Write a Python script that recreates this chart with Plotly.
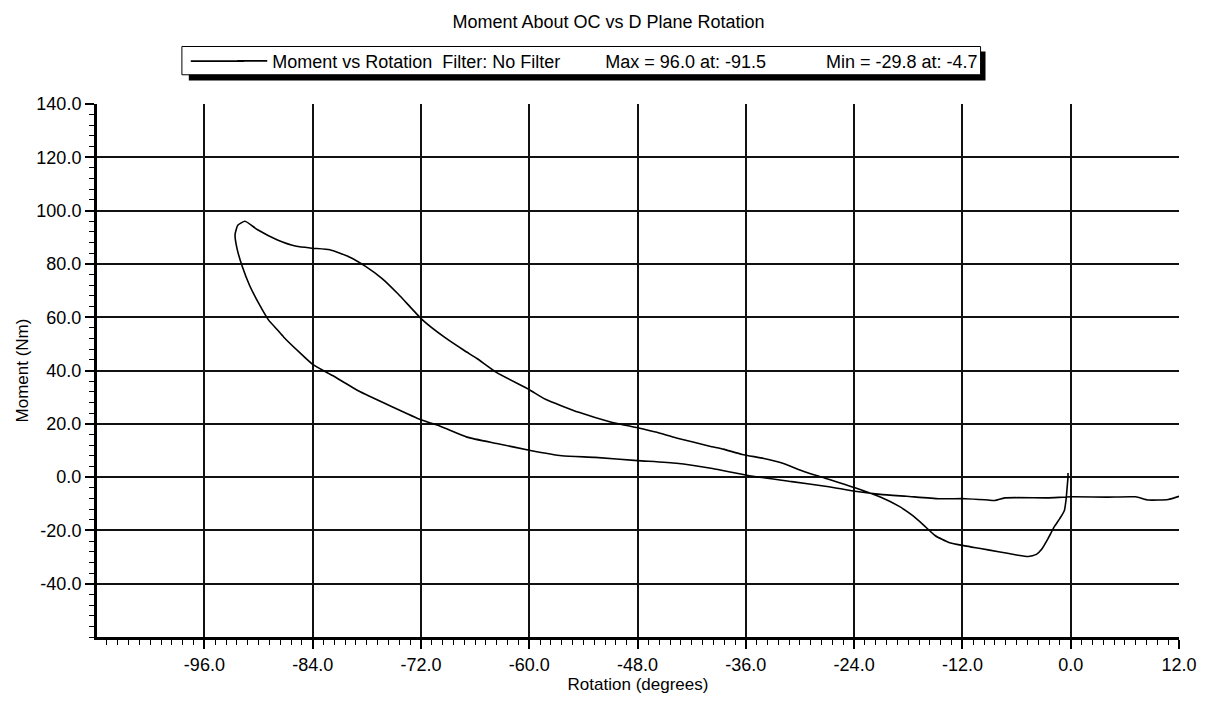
import plotly.graph_objects as go

# ---- data ----
rotation = [
    -0.3, -0.3, -0.4, -0.5, -0.7, -1.2, -1.8, -2.5, -3.2, -3.8, -4.7,
    -6.0, -8.0, -10.0, -11.7, -13.5, -15.0, -16.3, -17.5, -19.0, -21.1,
    -23.9, -27.3, -29.5, -32.0, -34.0, -36.4, -38.5, -40.0, -43.7, -46.0,
    -48.0, -50.9, -54.5, -58.2, -60.0, -63.6, -65.8, -67.2, -69.4, -71.9,
    -73.1, -74.5, -76.3, -78.1, -80.0, -82.1, -84.0, -85.8, -87.9, -90.1,
    -91.5, -92.3, -92.6,
    -92.4, -91.8, -91.0, -89.9, -88.9, -88.0, -87.2, -85.4, -84.0, -81.8, -78.9,
    -75.2, -72.0, -69.8, -66.9, -63.6, -60.0, -56.4, -52.7, -48.0, -43.7,
    -39.7, -35.9, -30.9, -27.0, -23.9, -21.1, -18.2, -14.6, -11.7, -9.5,
    -8.4, -7.3, -2.6, 0.0, 4.0, 7.2, 8.6, 10.8, 12.0,
]
moment = [
    1.5, 0.0, -4.0, -8.0, -12.5, -15.5, -18.5, -23.0, -27.0, -29.0, -29.8,
    -29.2, -28.0, -26.8, -25.8, -24.5, -22.0, -18.0, -14.5, -11.0, -7.5,
    -4.0, -0.3, 2.0, 5.3, 7.0, 8.5, 10.5, 11.6, 14.7, 16.9,
    18.5, 20.6, 24.3, 29.2, 32.8, 39.2, 44.5, 47.5, 52.5, 59.2,
    63.5, 68.6, 74.5, 79.0, 82.7, 85.3, 85.9, 86.6, 89.0, 92.8,
    96.0, 94.5, 91.0,
    86.0, 79.0, 72.0, 64.7, 59.0, 55.6, 52.5, 46.6, 42.3, 38.1, 32.3,
    26.4, 21.5, 19.0, 15.0, 12.6, 10.1, 8.0, 7.4, 6.2, 5.2,
    3.2, 0.7, -1.7, -3.5, -5.3, -6.5, -7.2, -8.1, -8.1, -8.5,
    -8.8, -7.8, -7.8, -7.4, -7.5, -7.4, -8.6, -8.4, -7.2,
]
x_ticks = [-96, -84, -72, -60, -48, -36, -24, -12, 0, 12]
y_ticks = [140, 120, 100, 80, 60, 40, 20, 0, -20, -40]
x_ticklabels = [f"{v:.1f}" for v in x_ticks]
y_ticklabels = [f"{v:.1f}" for v in y_ticks]

series_name = "Moment vs Rotation"
NB = "\u00a0"
legend_text = (series_name + NB * 2 + "Filter: No Filter" + NB * 9
               + "Max = 96.0 at: -91.5" + NB * 12 + "Min = -29.8 at: -4.7")

FONT = "Arial, Liberation Sans, Helvetica, sans-serif"
# page body has an 8px margin, so the figure is 16px smaller than the window
W, H = 1201, 690
L, R, T, B = 87, 18, 96, 47
PW, PH = W - L - R, H - T - B


def px_x(px):
    return (px - L) / PW


def px_y(py):
    return (H - B - py) / PH


fig = go.Figure()
fig.add_trace(go.Scatter(
    x=rotation, y=moment, mode="lines", name=legend_text,
    line=dict(color="black", width=1.6, shape="spline", smoothing=0.5),
    showlegend=True,
))

BOX_L, BOX_R, BOX_T, BOX_B = 173, 982, 37, 66
shapes = [
    # legend shadow
    dict(type="rect", xref="paper", yref="paper",
         x0=px_x(BOX_L + 7), x1=px_x(BOX_R + 5), y0=px_y(BOX_B + 6), y1=px_y(BOX_T + 5),
         fillcolor="black", line=dict(width=0), layer="above"),
    # legend box
    dict(type="rect", xref="paper", yref="paper",
         x0=px_x(BOX_L), x1=px_x(BOX_R), y0=px_y(BOX_B), y1=px_y(BOX_T),
         fillcolor="white", line=dict(color="black", width=1), layer="above"),
    # long legend key
    dict(type="line", xref="paper", yref="paper",
         x0=px_x(182), x1=px_x(236), y0=px_y(52), y1=px_y(52),
         line=dict(color="black", width=1.6), layer="above"),
]

fig.update_layout(
    width=W, height=H, autosize=False,
    paper_bgcolor="white", plot_bgcolor="white",
    margin=dict(l=L, r=R, t=T, b=B),
    font=dict(family=FONT, size=17, color="black"),
    title=dict(text="Moment About OC vs D Plane Rotation", x=0.5, xref="container",
               y=1 - 14 / H, yref="container", yanchor="middle",
               font=dict(family=FONT, size=18, color="black")),
    showlegend=True,
    legend=dict(x=px_x(224), xanchor="left", y=px_y(52), yanchor="middle",
                bgcolor="rgba(0,0,0,0)", borderwidth=0,
                font=dict(family=FONT, size=18, color="black"),
                itemclick=False, itemdoubleclick=False),
    shapes=shapes,
    xaxis=dict(
        range=[-107.9, 12.0], tickvals=x_ticks, ticktext=x_ticklabels,
        showgrid=True, gridcolor="#111111", gridwidth=1.6,
        showline=True, linecolor="black", linewidth=3,
        ticks="outside", ticklen=9, tickwidth=1.5, tickcolor="black",
        minor=dict(dtick=1.2, tick0=0, ticks="outside", ticklen=5,
                   tickwidth=1.2, tickcolor="black", showgrid=False),
        zeroline=False, mirror=False,
        tickfont=dict(family=FONT, size=18),
        title=dict(text="Rotation (degrees)", standoff=0,
                   font=dict(family=FONT, size=17)),
    ),
    yaxis=dict(
        range=[-60.0, 140.0], tickvals=y_ticks, ticktext=y_ticklabels,
        showgrid=True, gridcolor="#111111", gridwidth=1.6,
        showline=True, linecolor="black", linewidth=3,
        ticks="outside", ticklen=9, tickwidth=1.5, tickcolor="black",
        minor=dict(dtick=4, tick0=0, ticks="outside", ticklen=5,
                   tickwidth=1.2, tickcolor="black", showgrid=False),
        zeroline=False, mirror=False,
        tickfont=dict(family=FONT, size=18),
        title=dict(text="Moment (Nm)", standoff=4,
                   font=dict(family=FONT, size=17)),
    ),
)

fig.write_html("out.html")
